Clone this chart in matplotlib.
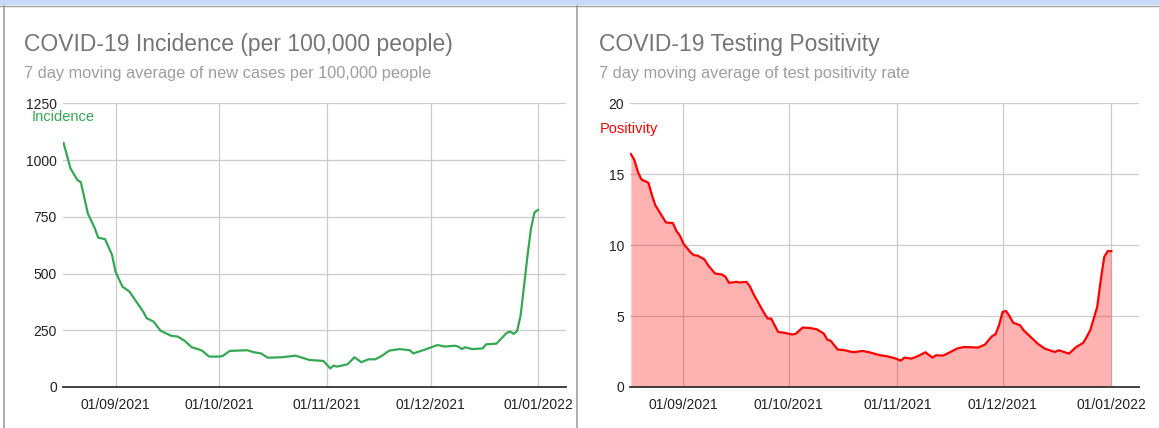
import matplotlib
matplotlib.use("Agg")
import matplotlib.pyplot as plt
import matplotlib.dates as mdates
from matplotlib.lines import Line2D
from matplotlib.patches import Rectangle
import pandas as pd

plt.rcParams['font.family'] = ['Liberation Sans', 'DejaVu Sans']

# 7 day moving average of new cases per 100,000 people
inc_dates = ["2021-08-17", "2021-08-19", "2021-08-21", "2021-08-22", "2021-08-24",
             "2021-08-26", "2021-08-27", "2021-08-29", "2021-08-31", "2021-09-01",
             "2021-09-03", "2021-09-05", "2021-09-07", "2021-09-09", "2021-09-10",
             "2021-09-12", "2021-09-14", "2021-09-17", "2021-09-19", "2021-09-21",
             "2021-09-23", "2021-09-25", "2021-09-26", "2021-09-28", "2021-10-01",
             "2021-10-02", "2021-10-04", "2021-10-09", "2021-10-11", "2021-10-13",
             "2021-10-15", "2021-10-19", "2021-10-23", "2021-10-27", "2021-10-31",
             "2021-11-02", "2021-11-03", "2021-11-04", "2021-11-07", "2021-11-09",
             "2021-11-11", "2021-11-13", "2021-11-15", "2021-11-17", "2021-11-19",
             "2021-11-22", "2021-11-25", "2021-11-26", "2021-11-29", "2021-12-03",
             "2021-12-05", "2021-12-08", "2021-12-09", "2021-12-10", "2021-12-11",
             "2021-12-13", "2021-12-16", "2021-12-17", "2021-12-20", "2021-12-21",
             "2021-12-23", "2021-12-24", "2021-12-25", "2021-12-26", "2021-12-27",
             "2021-12-28", "2021-12-29", "2021-12-30", "2021-12-31", "2022-01-01"]
incidence = [1075, 963, 912, 902, 765,
             700, 658, 651, 582, 508,
             442, 421, 376, 332, 303,
             288, 248, 226, 222, 203,
             175, 166, 160, 134, 134,
             137, 159, 162, 153, 148,
             129, 131, 138, 119, 115,
             82, 94, 90, 100, 131,
             109, 122, 122, 138, 160,
             167, 162, 148, 163, 185,
             178, 182, 178, 167, 175,
             167, 170, 188, 191, 207,
             239, 244, 234, 248, 317,
             449, 583, 700, 770, 780]

# 7 day moving average of test positivity rate
pos_dates = ["2021-08-17", "2021-08-18", "2021-08-19", "2021-08-20", "2021-08-22",
             "2021-08-23", "2021-08-24", "2021-08-26", "2021-08-27", "2021-08-29",
             "2021-08-30", "2021-08-31", "2021-09-01", "2021-09-03", "2021-09-04",
             "2021-09-05", "2021-09-07", "2021-09-08", "2021-09-10", "2021-09-12",
             "2021-09-13", "2021-09-14", "2021-09-16", "2021-09-17", "2021-09-19",
             "2021-09-20", "2021-09-21", "2021-09-23", "2021-09-24", "2021-09-25",
             "2021-09-26", "2021-09-28", "2021-09-30", "2021-10-02", "2021-10-03",
             "2021-10-05", "2021-10-07", "2021-10-09", "2021-10-11", "2021-10-12",
             "2021-10-13", "2021-10-15", "2021-10-17", "2021-10-19", "2021-10-20",
             "2021-10-22", "2021-10-24", "2021-10-27", "2021-10-29", "2021-10-31",
             "2021-11-02", "2021-11-03", "2021-11-05", "2021-11-07", "2021-11-09",
             "2021-11-11", "2021-11-12", "2021-11-14", "2021-11-16", "2021-11-18",
             "2021-11-20", "2021-11-24", "2021-11-26", "2021-11-27", "2021-11-28",
             "2021-11-29", "2021-11-30", "2021-12-01", "2021-12-02", "2021-12-03",
             "2021-12-04", "2021-12-06", "2021-12-07", "2021-12-09", "2021-12-11",
             "2021-12-13", "2021-12-15", "2021-12-16", "2021-12-17", "2021-12-19",
             "2021-12-20", "2021-12-21", "2021-12-22", "2021-12-24", "2021-12-25",
             "2021-12-26", "2021-12-28", "2021-12-29", "2021-12-30", "2021-12-31",
             "2022-01-01"]
positivity = [16.42, 16.0, 15.17, 14.63, 14.4,
              13.53, 12.8, 12.0, 11.6, 11.55,
              11.0, 10.66, 10.1, 9.5, 9.29,
              9.27, 8.99, 8.59, 8.0, 7.93,
              7.76, 7.34, 7.41, 7.37, 7.41,
              7.06, 6.54, 5.65, 5.22, 4.83,
              4.83, 3.88, 3.81, 3.70, 3.75,
              4.19, 4.16, 4.07, 3.77, 3.35,
              3.25, 2.64, 2.59, 2.47, 2.47,
              2.54, 2.45, 2.24, 2.17, 2.05,
              1.86, 2.07, 2.0, 2.19, 2.45,
              2.07, 2.24, 2.21, 2.45, 2.71,
              2.82, 2.78, 2.99, 3.30, 3.58,
              3.72, 4.35, 5.29, 5.36, 4.99,
              4.54, 4.35, 4.0, 3.53, 3.06,
              2.71, 2.54, 2.47, 2.59, 2.43,
              2.36, 2.59, 2.82, 3.11, 3.53,
              4.0, 5.65, 7.53, 9.17, 9.58,
              9.58]

month_ticks = ["2021-09-01", "2021-10-01", "2021-11-01", "2021-12-01", "2022-01-01"]

W, H = 1159, 428
fig = plt.figure(figsize=(W / 100, H / 100), dpi=100)

# sheet-style frame around the two charts
fig.add_artist(Rectangle((0, 1 - 4.5 / H), 1, 4.5 / H, transform=fig.transFigure,
                         color="#c9daf8", lw=0))
fig.add_artist(Line2D([0, 1], [1 - 5.5 / H] * 2, transform=fig.transFigure,
                      color="#9e9e9e", lw=1))
for xp in (3.5, 577):
    fig.add_artist(Line2D([xp / W] * 2, [0, 1 - 5.5 / H], transform=fig.transFigure,
                          color="#9e9e9e", lw=1.2))

xmin = pd.Timestamp("2021-08-16 20:00")
xmax = pd.Timestamp("2022-01-09")


def setup(ax, ymax, step):
    ax.set_xlim(xmin, xmax)
    ax.set_ylim(0, ymax)
    ax.set_yticks(range(0, ymax + 1, step))
    ax.set_xticks(pd.to_datetime(month_ticks))
    ax.xaxis.set_major_formatter(mdates.DateFormatter("%d/%m/%Y"))
    ax.grid(True, color="#cccccc", lw=0.9)
    ax.set_axisbelow(True)
    for s in ("left", "right", "top"):
        ax.spines[s].set_visible(False)
    ax.spines["bottom"].set_color("#333333")
    ax.spines["bottom"].set_linewidth(1.3)
    ax.spines["bottom"].set_zorder(5)
    ax.tick_params(axis="both", length=0, labelsize=10, labelcolor="#222222")
    ax.tick_params(axis="x", pad=8)
    ax.tick_params(axis="y", pad=4.5)


# left chart: incidence
axl = fig.add_axes([63 / W, 41 / H, 502.7 / W, 283.7 / H])
setup(axl, 1250, 250)
axl.plot(pd.to_datetime(inc_dates), incidence, color="#34a853", lw=1.6,
         solid_joinstyle="round")
axl.text(32 / W, 1 - 117 / H, "Incidence", transform=fig.transFigure, color="#34a853",
         fontsize=10.5, va="center", ha="left")

fig.text(24 / W, 1 - 51 / H, "COVID-19 Incidence (per 100,000 people)",
         fontsize=16.5, color="#757575", va="baseline")
fig.text(24 / W, 1 - 78 / H, "7 day moving average of new cases per 100,000 people",
         fontsize=11.8, color="#9e9e9e", va="baseline")

# right chart: positivity
axr = fig.add_axes([630.3 / W, 41 / H, 509 / W, 283.7 / H])
setup(axr, 20, 5)
pd_dates = pd.to_datetime(pos_dates)
axr.fill_between(pd_dates, positivity, 0, color="#ff0000", alpha=0.3, lw=0, zorder=2)
axr.plot(pd_dates, positivity, color="#ff0000", lw=1.6, solid_joinstyle="round", zorder=3)
axr.text(600 / W, 1 - 129 / H, "Positivity", transform=fig.transFigure, color="#ff0000",
         fontsize=10.5, va="center", ha="left")

fig.text(599 / W, 1 - 51 / H, "COVID-19 Testing Positivity",
         fontsize=16.5, color="#757575", va="baseline")
fig.text(599 / W, 1 - 78 / H, "7 day moving average of test positivity rate",
         fontsize=11.8, color="#9e9e9e", va="baseline")

fig.savefig("out.png", dpi=100)
